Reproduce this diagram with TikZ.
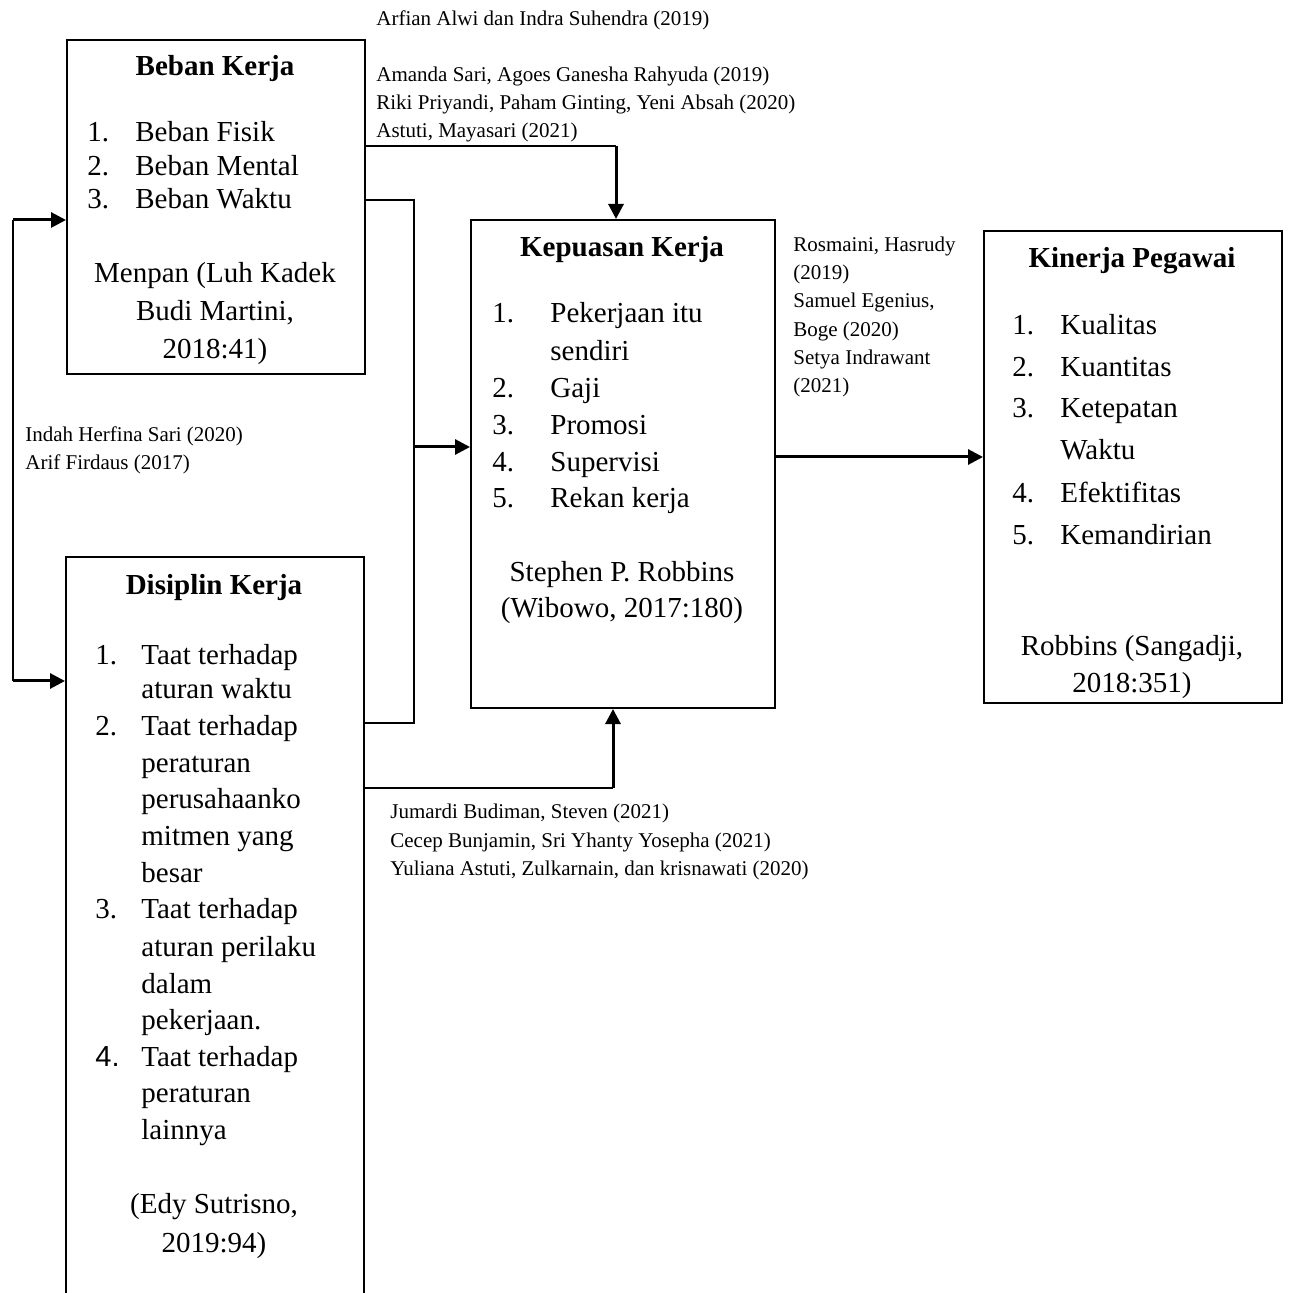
\documentclass[tikz,border=0pt]{standalone}
\usepackage{fontspec}
\setmainfont{Liberation Serif}
\newfontfamily\arialfont{Liberation Sans}
\usetikzlibrary{arrows.meta}

\newlength{\du}
\setlength{\du}{0.5pt}

\tikzset{
  kotak/.style={draw, line width=2\du, inner sep=0pt, anchor=north west},
  teks/.style={inner sep=0pt, font=\fontsize{14.5}{17}\selectfont},
  item/.style={teks, anchor=base west},
  tengah/.style={teks, anchor=base},
  judul/.style={teks, anchor=base, font=\fontsize{14.5}{17}\selectfont\bfseries},
  kecil/.style={inner sep=0pt, anchor=base west, font=\fontsize{10.5}{13}\selectfont},
  garis/.style={line width=1.5\du},
  panah/.style={line width=3\du, -{Triangle[length=7.5pt,width=7.5pt]}},
}

\begin{document}
\begin{tikzpicture}
\pgftransformxscale{1.000000}
\pgftransformyscale{-1.000000}
\useasboundingbox (0\du,0\du) rectangle (1295\du,1293\du);

% Beban Kerja
\node[kotak, minimum width=298\du, minimum height=334\du] (beban) at (66\du,39\du) {};
\node[judul] (bebanJudul) at (215\du,76\du) {Beban Kerja};
\node[item] (bebanA) at (87\du,142\du) {\makebox[48\du][l]{1.}Beban Fisik};
\node[item] (bebanB) at (87\du,176\du) {\makebox[48\du][l]{2.}Beban Mental};
\node[item] (bebanC) at (87\du,209\du) {\makebox[48\du][l]{3.}Beban Waktu};
\node[tengah] (bebanSumberA) at (215\du,283\du) {Menpan (Luh Kadek};
\node[tengah] (bebanSumberB) at (215\du,321\du) {Budi Martini,};
\node[tengah] (bebanSumberC) at (215\du,359\du) {2018:41)};

% Disiplin Kerja (box runs off the bottom of the page)
\node[kotak, minimum width=298\du, minimum height=770\du] (disiplin) at (65\du,556\du) {};
\node[judul] (disiplinJudul) at (214\du,595\du) {Disiplin Kerja};
\node[item] (disiplinA) at (95\du,665\du) {\makebox[46\du][l]{1.}Taat terhadap};
\node[item] (disiplinA2) at (141\du,698\du) {aturan waktu};
\node[item] (disiplinB) at (95\du,735\du) {\makebox[46\du][l]{2.}Taat terhadap};
\node[item] (disiplinB2) at (141\du,772\du) {peraturan};
\node[item] (disiplinB3) at (141\du,808\du) {perusahaanko};
\node[item] (disiplinB4) at (141\du,845\du) {mitmen yang};
\node[item] (disiplinB5) at (141\du,882\du) {besar};
\node[item] (disiplinC) at (95\du,918\du) {\makebox[46\du][l]{3.}Taat terhadap};
\node[item] (disiplinC2) at (141\du,956\du) {aturan perilaku};
\node[item] (disiplinC3) at (141\du,993\du) {dalam};
\node[item] (disiplinC4) at (141\du,1029\du) {pekerjaan.};
\node[item] (disiplinD) at (95\du,1066\du) {\makebox[46\du][l]{\arialfont 4.}Taat terhadap};
\node[item] (disiplinD2) at (141\du,1102\du) {peraturan};
\node[item] (disiplinD3) at (141\du,1139\du) {lainnya};
\node[tengah] (disiplinSumberA) at (214\du,1213\du) {(Edy Sutrisno,};
\node[tengah] (disiplinSumberB) at (214\du,1252\du) {2019:94)};

% Kepuasan Kerja
\node[kotak, minimum width=304\du, minimum height=488\du] (kepuasan) at (470\du,219\du) {};
\node[judul] (kepuasanJudul) at (622\du,257\du) {Kepuasan Kerja};
\node[item] (kepuasanA) at (492\du,323\du) {\makebox[58\du][l]{1.}Pekerjaan itu};
\node[item] (kepuasanA2) at (550\du,361\du) {sendiri};
\node[item] (kepuasanB) at (492\du,398\du) {\makebox[58\du][l]{2.}Gaji};
\node[item] (kepuasanC) at (492\du,435\du) {\makebox[58\du][l]{3.}Promosi};
\node[item] (kepuasanD) at (492\du,472\du) {\makebox[58\du][l]{4.}Supervisi};
\node[item] (kepuasanE) at (492\du,508\du) {\makebox[58\du][l]{5.}Rekan kerja};
\node[tengah] (kepuasanSumberA) at (622\du,582\du) {Stephen P. Robbins};
\node[tengah] (kepuasanSumberB) at (622\du,618\du) {(Wibowo, 2017:180)};

% Kinerja Pegawai
\node[kotak, minimum width=298\du, minimum height=472\du] (kinerja) at (983\du,230\du) {};
\node[judul] (kinerjaJudul) at (1132\du,268\du) {Kinerja Pegawai};
\node[item] (kinerjaA) at (1012\du,335\du) {\makebox[48\du][l]{1.}Kualitas};
\node[item] (kinerjaB) at (1012\du,377\du) {\makebox[48\du][l]{2.}Kuantitas};
\node[item] (kinerjaC) at (1012\du,418\du) {\makebox[48\du][l]{3.}Ketepatan};
\node[item] (kinerjaC2) at (1060\du,460\du) {Waktu};
\node[item] (kinerjaD) at (1012\du,503\du) {\makebox[48\du][l]{4.}Efektifitas};
\node[item] (kinerjaE) at (1012\du,545\du) {\makebox[48\du][l]{5.}Kemandirian};
\node[tengah] (kinerjaSumberA) at (1132\du,655\du) {Robbins (Sangadji,};
\node[tengah] (kinerjaSumberB) at (1132\du,692\du) {2018:351)};

% rujukan penelitian
\node[kecil] (rujukanAtasA) at (376\du,26\du) {Arfian Alwi dan Indra Suhendra (2019)};
\node[kecil] (rujukanAtasB) at (376\du,82\du) {Amanda Sari, Agoes Ganesha Rahyuda (2019)};
\node[kecil] (rujukanAtasC) at (376\du,110\du) {Riki Priyandi, Paham Ginting, Yeni Absah (2020)};
\node[kecil] (rujukanAtasD) at (376\du,138\du) {Astuti, Mayasari (2021)};
\node[kecil] (rujukanKiriA) at (25\du,442\du) {Indah Herfina Sari (2020)};
\node[kecil] (rujukanKiriB) at (25\du,470\du) {Arif Firdaus (2017)};
\node[kecil] (rujukanKananA) at (793\du,252\du) {Rosmaini, Hasrudy};
\node[kecil] (rujukanKananB) at (793\du,280\du) {(2019)};
\node[kecil] (rujukanKananC) at (793\du,308\du) {Samuel Egenius,};
\node[kecil] (rujukanKananD) at (793\du,337\du) {Boge (2020)};
\node[kecil] (rujukanKananE) at (793\du,365\du) {Setya Indrawant};
\node[kecil] (rujukanKananF) at (793\du,393\du) {(2021)};
\node[kecil] (rujukanBawahA) at (390\du,818\du) {Jumardi Budiman, Steven (2021)};
\node[kecil] (rujukanBawahB) at (390\du,847\du) {Cecep Bunjamin, Sri Yhanty Yosepha (2021)};
\node[kecil] (rujukanBawahC) at (390\du,875\du) {Yuliana Astuti, Zulkarnain, dan krisnawati (2020)};

% titik belok
\coordinate (kiriAtas) at (13\du,220\du);
\coordinate (kiriBawah) at (13\du,681\du);
\coordinate (tengahAtas) at (414\du,200\du);
\coordinate (tengahBawah) at (414\du,723\du);
\coordinate (tengahPanah) at (414\du,447\du);
\coordinate (atasBelok) at (616\du,146\du);
\coordinate (bawahBelok) at (613\du,788\du);
\coordinate (kananPanah) at (774\du,457\du);

% garis dan panah
\draw[garis] (kiriAtas) -- (kiriBawah);
\draw[panah] (kiriAtas) -- (beban.west |- kiriAtas);
\draw[panah] (kiriBawah) -- (disiplin.west |- kiriBawah);
\draw[garis] (beban.east |- tengahAtas) -- (tengahAtas) -- (tengahBawah) -- (disiplin.east |- tengahBawah);
\draw[panah] (tengahPanah) -- (kepuasan.west |- tengahPanah);
\draw[garis] (beban.east |- atasBelok) -- (atasBelok);
\draw[panah] (atasBelok) -- (kepuasan.north -| atasBelok);
\draw[garis] (disiplin.east |- bawahBelok) -- (bawahBelok);
\draw[panah] (bawahBelok) -- (kepuasan.south -| bawahBelok);
\draw[panah] (kepuasan.east |- kananPanah) -- (kinerja.west |- kananPanah);
\end{tikzpicture}
\end{document}
